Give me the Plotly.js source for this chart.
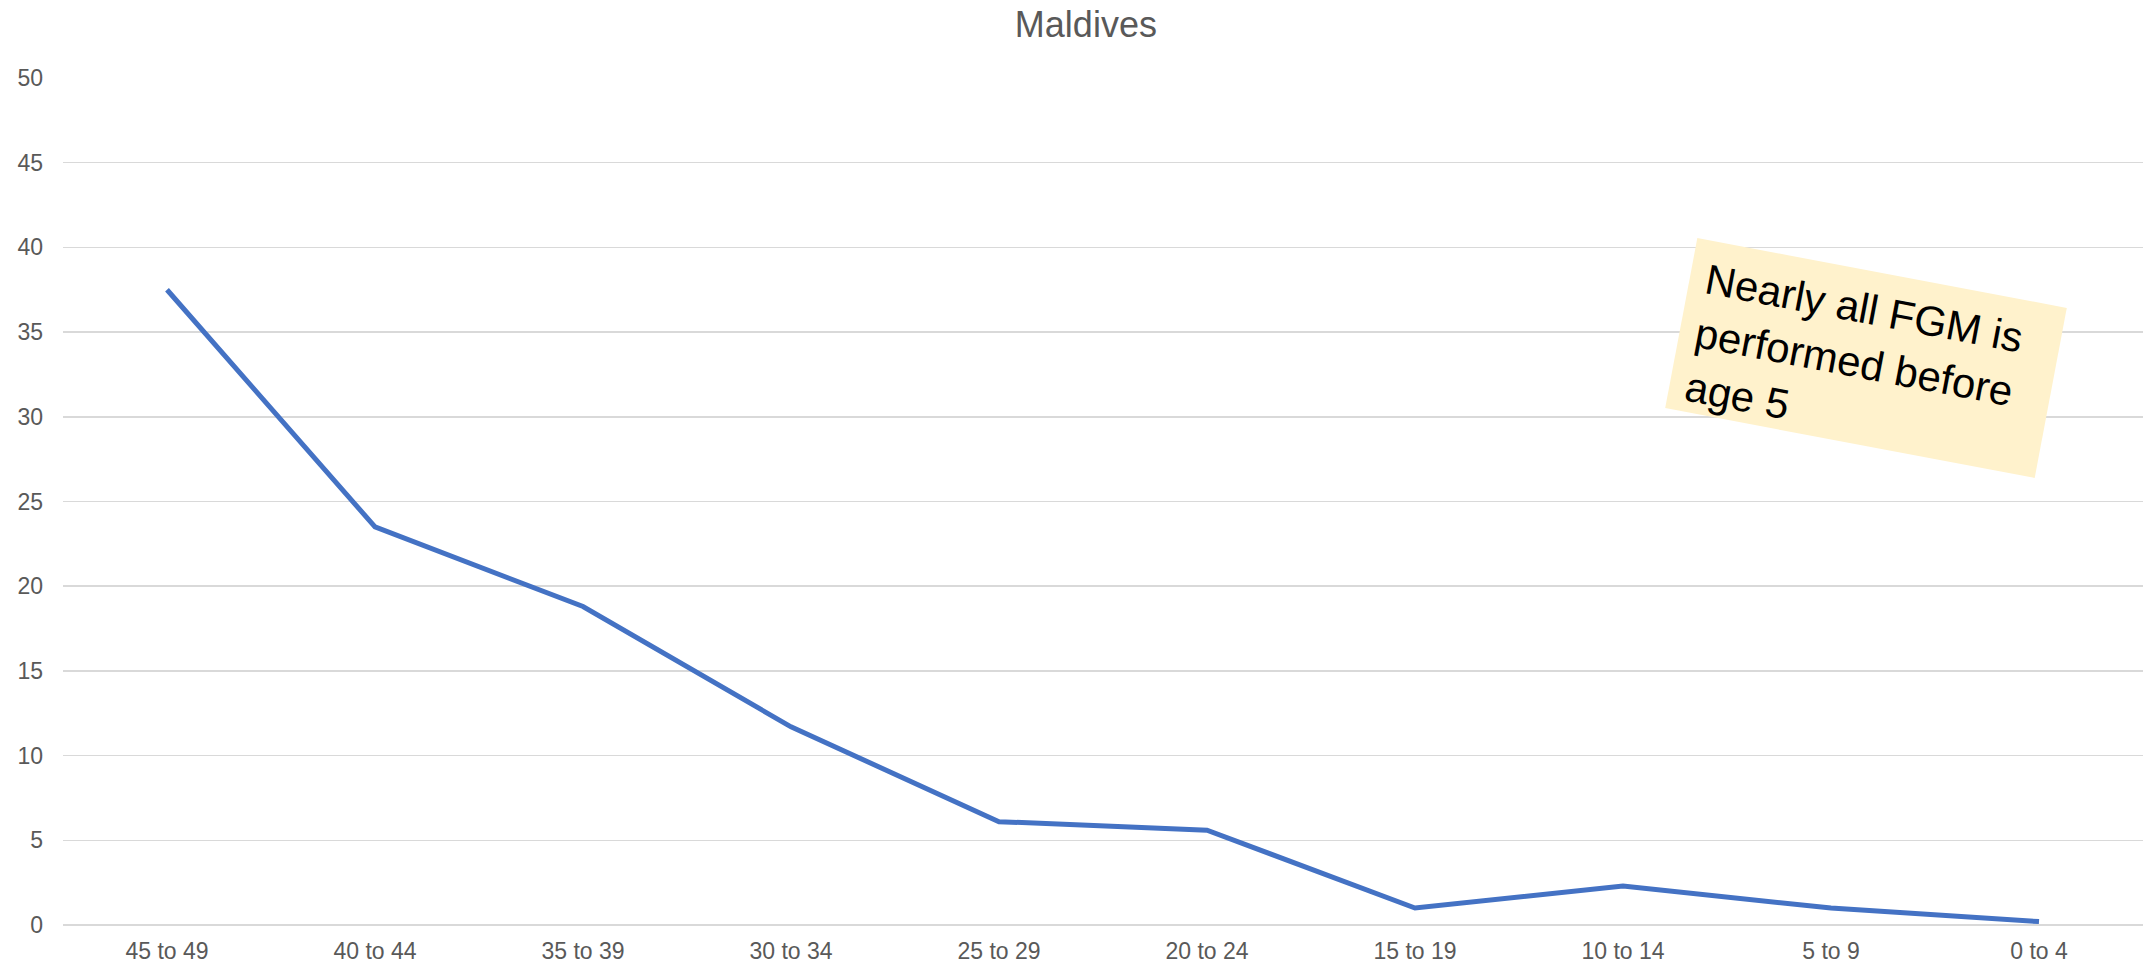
<!DOCTYPE html>
<html>
<head>
<meta charset="utf-8">
<script src="https://cdn.plot.ly/plotly-3.0.1.min.js"></script>
<style>
  html, body { margin: 0; padding: 0; background: #ffffff; }
  #chart { width: 2152px; height: 966px; }
</style>
</head>
<body>
<div id="chart"></div>
<script>
// Age groups, oldest first
const ageGroups = ["45 to 49", "40 to 44", "35 to 39", "30 to 34", "25 to 29",
                   "20 to 24", "15 to 19", "10 to 14", "5 to 9", "0 to 4"];
// Percentage cut in each age group
const fgmShare = [37.5, 23.5, 18.8, 11.7, 6.1, 5.6, 1.0, 2.3, 1.0, 0.2];
const yTicks = [0, 5, 10, 15, 20, 25, 30, 35, 40, 45, 50];
const chartTitle = "Maldives";
const noteText = "Nearly all FGM is<br>performed before<br>age 5";

const W = 2152, H = 966;
const margin = { l: 63, r: 9, t: 78, b: 41, pad: 0 };
const plotW = W - margin.l - margin.r;
const plotH = H - margin.t - margin.b;

// pixel position on the page -> paper coordinates
const toPaper = (px, py) => [(px - margin.l) / plotW, (H - margin.b - py) / plotH];

// Tilted sticky note: centre, size (px) and tilt (degrees, clockwise)
const note = { cx: 1866, cy: 358, w: 376, h: 173, angle: 10.7 };
const rad = note.angle * Math.PI / 180;
const rot = (dx, dy) => [note.cx + dx * Math.cos(rad) - dy * Math.sin(rad),
                         note.cy + dx * Math.sin(rad) + dy * Math.cos(rad)];
const corners = [[-note.w / 2, -note.h / 2], [note.w / 2, -note.h / 2],
                 [note.w / 2, note.h / 2], [-note.w / 2, note.h / 2]]
  .map(([dx, dy]) => toPaper(...rot(dx, dy)));
const notePath = "M " + corners.map(c => c[0].toFixed(5) + "," + c[1].toFixed(5)).join(" L ") + " Z";
// text block sits a little left of and below the note's centre
const textPos = toPaper(...rot(-11, 6));

const axisFont = { family: "Liberation Sans, Arial, sans-serif", size: 23, color: "#595959" };

const trace = {
  type: "scatter",
  mode: "lines",
  x: ageGroups,
  y: fgmShare,
  line: { color: "#4472C4", width: 5 },
  hoverinfo: "x+y"
};

const layout = {
  width: W,
  height: H,
  margin: margin,
  paper_bgcolor: "#ffffff",
  plot_bgcolor: "#ffffff",
  showlegend: false,
  title: {
    text: chartTitle,
    font: { family: "Liberation Sans, Arial, sans-serif", size: 36, color: "#595959" },
    xref: "container", x: 0.5046,
    yref: "container", y: 0.988, yanchor: "top"
  },
  xaxis: {
    type: "category",
    range: [-0.5, ageGroups.length - 0.5],
    showgrid: false,
    zeroline: false,
    showline: false,
    ticks: "",
    tickfont: axisFont,
    ticklabelstandoff: 10,
    fixedrange: true
  },
  yaxis: {
    range: [0, 50],
    tickmode: "array",
    tickvals: yTicks,
    ticktext: yTicks.map(String),
    showgrid: true,
    gridcolor: "#d9d9d9",
    gridwidth: 1.5,
    zeroline: true,
    zerolinecolor: "#d9d9d9",
    zerolinewidth: 1.5,
    showline: false,
    ticks: "",
    tickfont: axisFont,
    ticklabelstandoff: 19,
    fixedrange: true
  },
  shapes: [{
    type: "path",
    xref: "paper", yref: "paper",
    path: notePath,
    fillcolor: "#FFF2CC",
    line: { width: 0 },
    layer: "above"
  }],
  annotations: [{
    text: noteText,
    xref: "paper", yref: "paper",
    x: textPos[0], y: textPos[1],
    xanchor: "center", yanchor: "middle",
    showarrow: false,
    textangle: note.angle,
    align: "left",
    borderpad: 0,
    font: { family: "Liberation Sans, Arial, sans-serif", size: 42, color: "#000000" }
  }]
};

Plotly.newPlot("chart", [trace], layout, { displayModeBar: false, staticPlot: true });
</script>
</body>
</html>
